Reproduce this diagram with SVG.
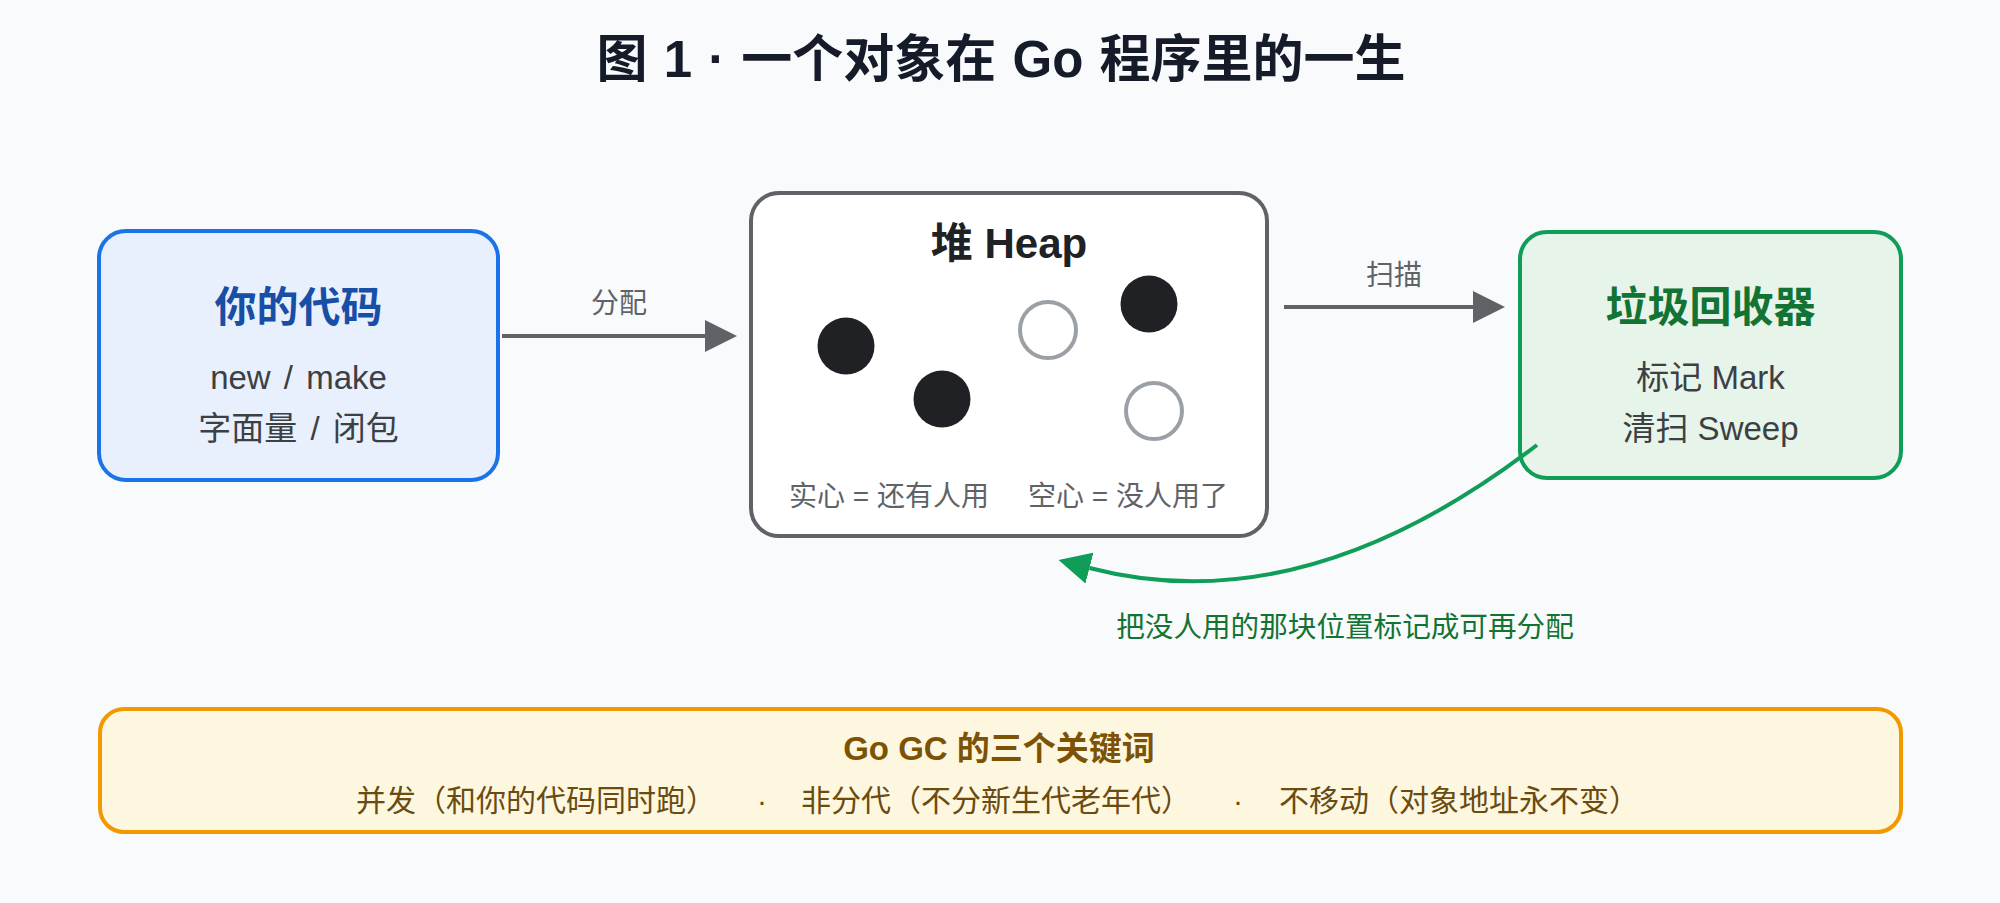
<svg xmlns="http://www.w3.org/2000/svg" width="2000" height="903" viewBox="0 0 2000 903">
  <defs>
    <style>
      text { font-family: 'Liberation Sans', 'Noto Sans CJK SC', sans-serif; }
      .title { font-size: 51px; font-weight: bold; fill: #161b29; text-anchor: middle; }
      .ntitle { font-size: 42px; font-weight: bold; text-anchor: middle; }
      .body { font-size: 33px; fill: #3c4043; text-anchor: middle; }
      .slash { word-spacing: 4px; }
      .small { font-size: 28px; fill: #5f6368; text-anchor: middle; }
      .conn { fill: none; stroke-width: 4; }
      .solid { fill: #202124; }
      .hollow { fill: #ffffff; stroke: #9aa0a6; stroke-width: 4; }
    </style>
    <marker id="ahGrey" markerUnits="userSpaceOnUse" markerWidth="32" markerHeight="32" refX="0" refY="16" orient="auto">
      <path d="M0,0 L32,16 L0,32 z" fill="#5f6368"/>
    </marker>
    <marker id="ahGreen" markerUnits="userSpaceOnUse" markerWidth="32" markerHeight="32" refX="0" refY="16" orient="auto">
      <path d="M0,0 L32,16 L0,32 z" fill="#0f9d58"/>
    </marker>
  </defs>

  <rect x="0" y="0" width="2000" height="903" fill="#f9fafc"/>

  <text class="title" x="1001" y="77" word-spacing="2">图 1 · 一个对象在 Go 程序里的一生</text>

  <g id="node-code">
    <rect x="99" y="231" width="399" height="249" rx="27" fill="#e8f0fe" stroke="#1a73e8" stroke-width="4"/>
    <text class="ntitle" x="298.5" y="322" fill="#174ea6">你的代码</text>
    <text class="body slash" x="298.5" y="389">new / make</text>
    <text class="body slash" x="298.5" y="440">字面量 / 闭包</text>
  </g>

  <g id="node-heap">
    <rect x="751" y="193" width="516" height="343" rx="28" fill="#ffffff" stroke="#5f6368" stroke-width="4"/>
    <text class="ntitle" x="1009" y="258" fill="#202124">堆 Heap</text>
    <circle class="solid" cx="846" cy="346" r="28.5"/>
    <circle class="solid" cx="942" cy="399" r="28.5"/>
    <circle class="solid" cx="1149" cy="304" r="28.5"/>
    <circle class="hollow" cx="1048" cy="330" r="28"/>
    <circle class="hollow" cx="1154" cy="411" r="28"/>
    <text class="small" x="889" y="506">实心 = 还有人用</text>
    <text class="small" x="1128" y="506">空心 = 没人用了</text>
  </g>

  <g id="node-gc">
    <rect x="1520" y="232" width="381" height="246" rx="27" fill="#e6f4ea" stroke="#0f9d58" stroke-width="4"/>
    <text class="ntitle" x="1710.5" y="322" fill="#137333">垃圾回收器</text>
    <text class="body" x="1710.5" y="389">标记 Mark</text>
    <text class="body" x="1710.5" y="440">清扫 Sweep</text>
  </g>

  <g id="node-keywords">
    <rect x="100" y="709" width="1801" height="123" rx="24" fill="#fef7e0" stroke="#f29900" stroke-width="4"/>
    <text x="999" y="760" font-size="33" font-weight="bold" fill="#7c5204" text-anchor="middle">Go GC 的三个关键词</text>
    <g font-size="30" fill="#6b4b10">
      <text x="356" y="811">并发（和你的代码同时跑）</text>
      <text x="762" y="811" text-anchor="middle">·</text>
      <text x="801" y="811">非分代（不分新生代老年代）</text>
      <text x="1238" y="811" text-anchor="middle">·</text>
      <text x="1279" y="811">不移动（对象地址永不变）</text>
    </g>
  </g>

  <g id="connectors">
    <path class="conn" d="M502 336 H705" stroke="#5f6368" marker-end="url(#ahGrey)"/>
    <text class="small" x="619" y="313">分配</text>
    <path class="conn" d="M1284 307 H1473" stroke="#5f6368" marker-end="url(#ahGrey)"/>
    <text class="small" x="1394" y="285">扫描</text>
    <path class="conn" d="M1537 445 Q1304 624 1089.5 568" stroke="#0f9d58" marker-end="url(#ahGreen)"/>
    <text x="1345" y="637" font-size="28.6" fill="#137333" text-anchor="middle">把没人用的那块位置标记成可再分配</text>
  </g>
</svg>
